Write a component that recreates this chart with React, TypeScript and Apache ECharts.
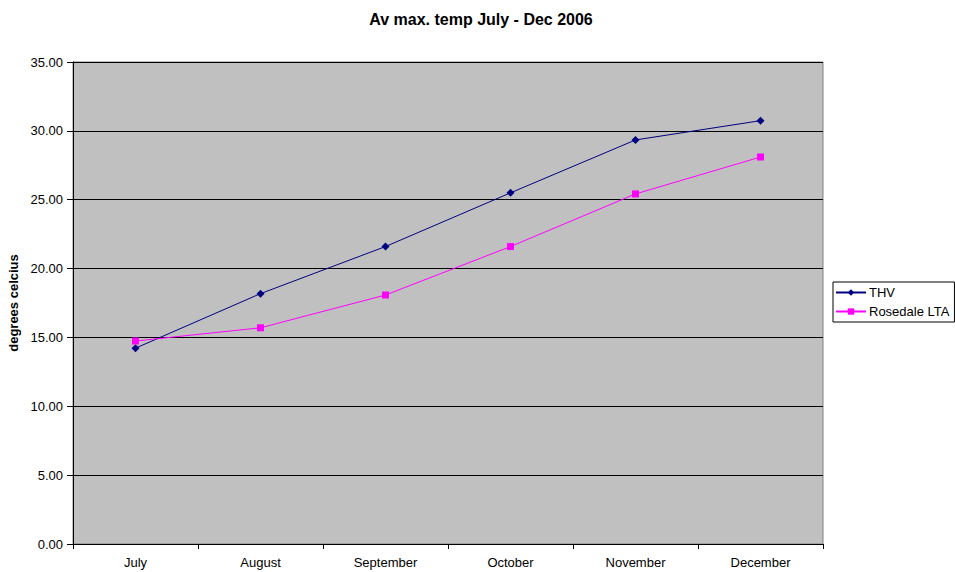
import React, { useEffect, useRef } from "react";
import * as echarts from "echarts";

const months = ["July", "August", "September", "October", "November", "December"];
const thv = [14.22, 18.18, 21.6, 25.5, 29.34, 30.74];
const rosedale = [14.74, 15.7, 18.08, 21.6, 25.42, 28.1];
const seriesNames = ["THV", "Rosedale LTA"];

export default function App() {
  const ref = useRef<HTMLDivElement>(null);
  useEffect(() => {
    const chart = echarts.init(ref.current!, null, { renderer: "svg" });
    const font = "Arial, 'Liberation Sans', sans-serif";
    chart.setOption({
      animation: false,
      backgroundColor: "#ffffff",
      textStyle: { fontFamily: font },
      title: {
        text: "Av max. temp July - Dec 2006",
        left: 476,
        textAlign: "center",
        top: 6,
        textStyle: { fontSize: 16, fontWeight: "bold", color: "#000", fontFamily: font },
      },
      legend: {
        orient: "vertical",
        left: 833,
        top: 282,
        padding: [4, 5, 4, 2],
        itemGap: 6,
        itemWidth: 30,
        itemHeight: 8,
        borderColor: "#000",
        borderWidth: 1,
        backgroundColor: "#fff",
        textStyle: { fontSize: 13, color: "#000", fontFamily: font, padding: [0, 0, 0, -2] },
        data: seriesNames,
      },
      grid: {
        left: 73,
        top: 62,
        width: 750,
        height: 482,
        outerBoundsMode: "none",
        containLabel: false,
        show: true,
        backgroundColor: "#c0c0c0",
        borderColor: "#808080",
        borderWidth: 1,
      },
      xAxis: {
        type: "category",
        data: months,
        boundaryGap: true,
        axisLine: { lineStyle: { color: "#000", width: 1 } },
        axisTick: { show: true, length: 5, lineStyle: { color: "#000" } },
        axisLabel: { fontSize: 13, color: "#000", margin: 12, fontFamily: font },
      },
      yAxis: {
        type: "value",
        min: 0,
        max: 35,
        interval: 5,
        name: "degrees celcius",
        nameLocation: "middle",
        nameGap: 52,
        nameTextStyle: { fontSize: 13, fontWeight: "bold", color: "#000", fontFamily: font },
        axisLine: { show: true, lineStyle: { color: "#000", width: 1 } },
        axisTick: { show: true, length: 6, lineStyle: { color: "#000" } },
        axisLabel: {
          fontSize: 13,
          color: "#000",
          margin: 10,
          fontFamily: font,
          formatter: (v: number) => v.toFixed(2),
        },
        splitLine: { show: true, lineStyle: { color: "#000", width: 1 } },
      },
      series: [
        {
          name: seriesNames[0],
          type: "line",
          data: thv,
          symbol: "diamond",
          symbolSize: 8,
          lineStyle: { color: "#000080", width: 1 },
          itemStyle: { color: "#000080" },
        },
        {
          name: seriesNames[1],
          type: "line",
          data: rosedale,
          symbol: "rect",
          symbolSize: 7,
          lineStyle: { color: "#ff00ff", width: 1 },
          itemStyle: { color: "#ff00ff" },
        },
      ],
    });
    return () => chart.dispose();
  }, []);
  return (
    <div
      ref={ref}
      style={{ position: "fixed", left: 0, top: 0, width: 955, height: 572 }}
    />
  );
}
